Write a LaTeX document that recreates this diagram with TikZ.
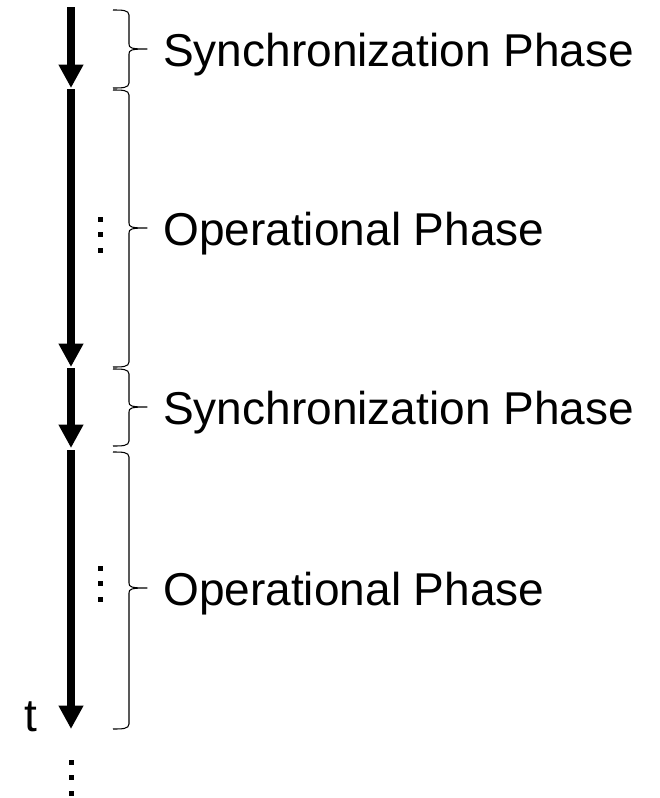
\documentclass[tikz,border=0pt]{standalone}
\usepackage{fontspec}
\setmainfont{Liberation Sans}
\usetikzlibrary{arrows.meta}
\begin{document}
\begin{tikzpicture}[
x=0.03cm, y=-0.03cm,
timearrow/.style={line width=0.24cm, -{Triangle[width=0.7cm,length=0.7cm]}},
phase/.style={anchor=base west, inner sep=0pt, font=\fontsize{39.3pt}{47pt}\selectfont},
bracepath/.style={line width=0.9pt, line join=round}
]
\useasboundingbox (0,0) rectangle (659,798);
% time points
\coordinate (t0) at (71,7);
\coordinate (t1) at (71,88);
\coordinate (t2) at (71,367);
\coordinate (t3) at (71,448);
\coordinate (t4) at (71,729);
\draw[timearrow] (t0) -- (t1);
\draw[timearrow, shorten <=1pt] (t1) -- (t2);
\draw[timearrow, shorten <=1pt] (t2) -- (t3);
\draw[timearrow, shorten <=2pt] (t3) -- (t4);
% braces
\foreach \ya/\ym/\yb in {10/49/88, 90/228/367, 369/407/446, 452/588/729}{
    \draw[bracepath] (113,\ya) .. controls (122,\ya) and (129,\ya) .. (129,\ya+5)
        -- (129,\ym-5) .. controls (129,\ym-1) and (131,\ym) .. (147,\ym)
        .. controls (131,\ym) and (129,\ym+1) .. (129,\ym+5)
        -- (129,\yb-5) .. controls (129,\yb) and (122,\yb) .. (113,\yb);
}
% labels
\node[phase] (sync1) at (163,66) {Synchronization Phase};
\node[phase] (oper1) at (163,245) {Operational Phase};
\node[phase] (sync2) at (163,424) {Synchronization Phase};
\node[phase] (oper2) at (163,605) {Operational Phase};
\node[phase] (time) at (24,731) {t};
% dots
\foreach \x/\y in {100/219, 100/568, 71/762}{
    \foreach \k in {0,1,2}
        \fill (\x-2.5,\y-2.5+15.7*\k) rectangle (\x+2.5,\y+2.5+15.7*\k);
}
\end{tikzpicture}
\end{document}
